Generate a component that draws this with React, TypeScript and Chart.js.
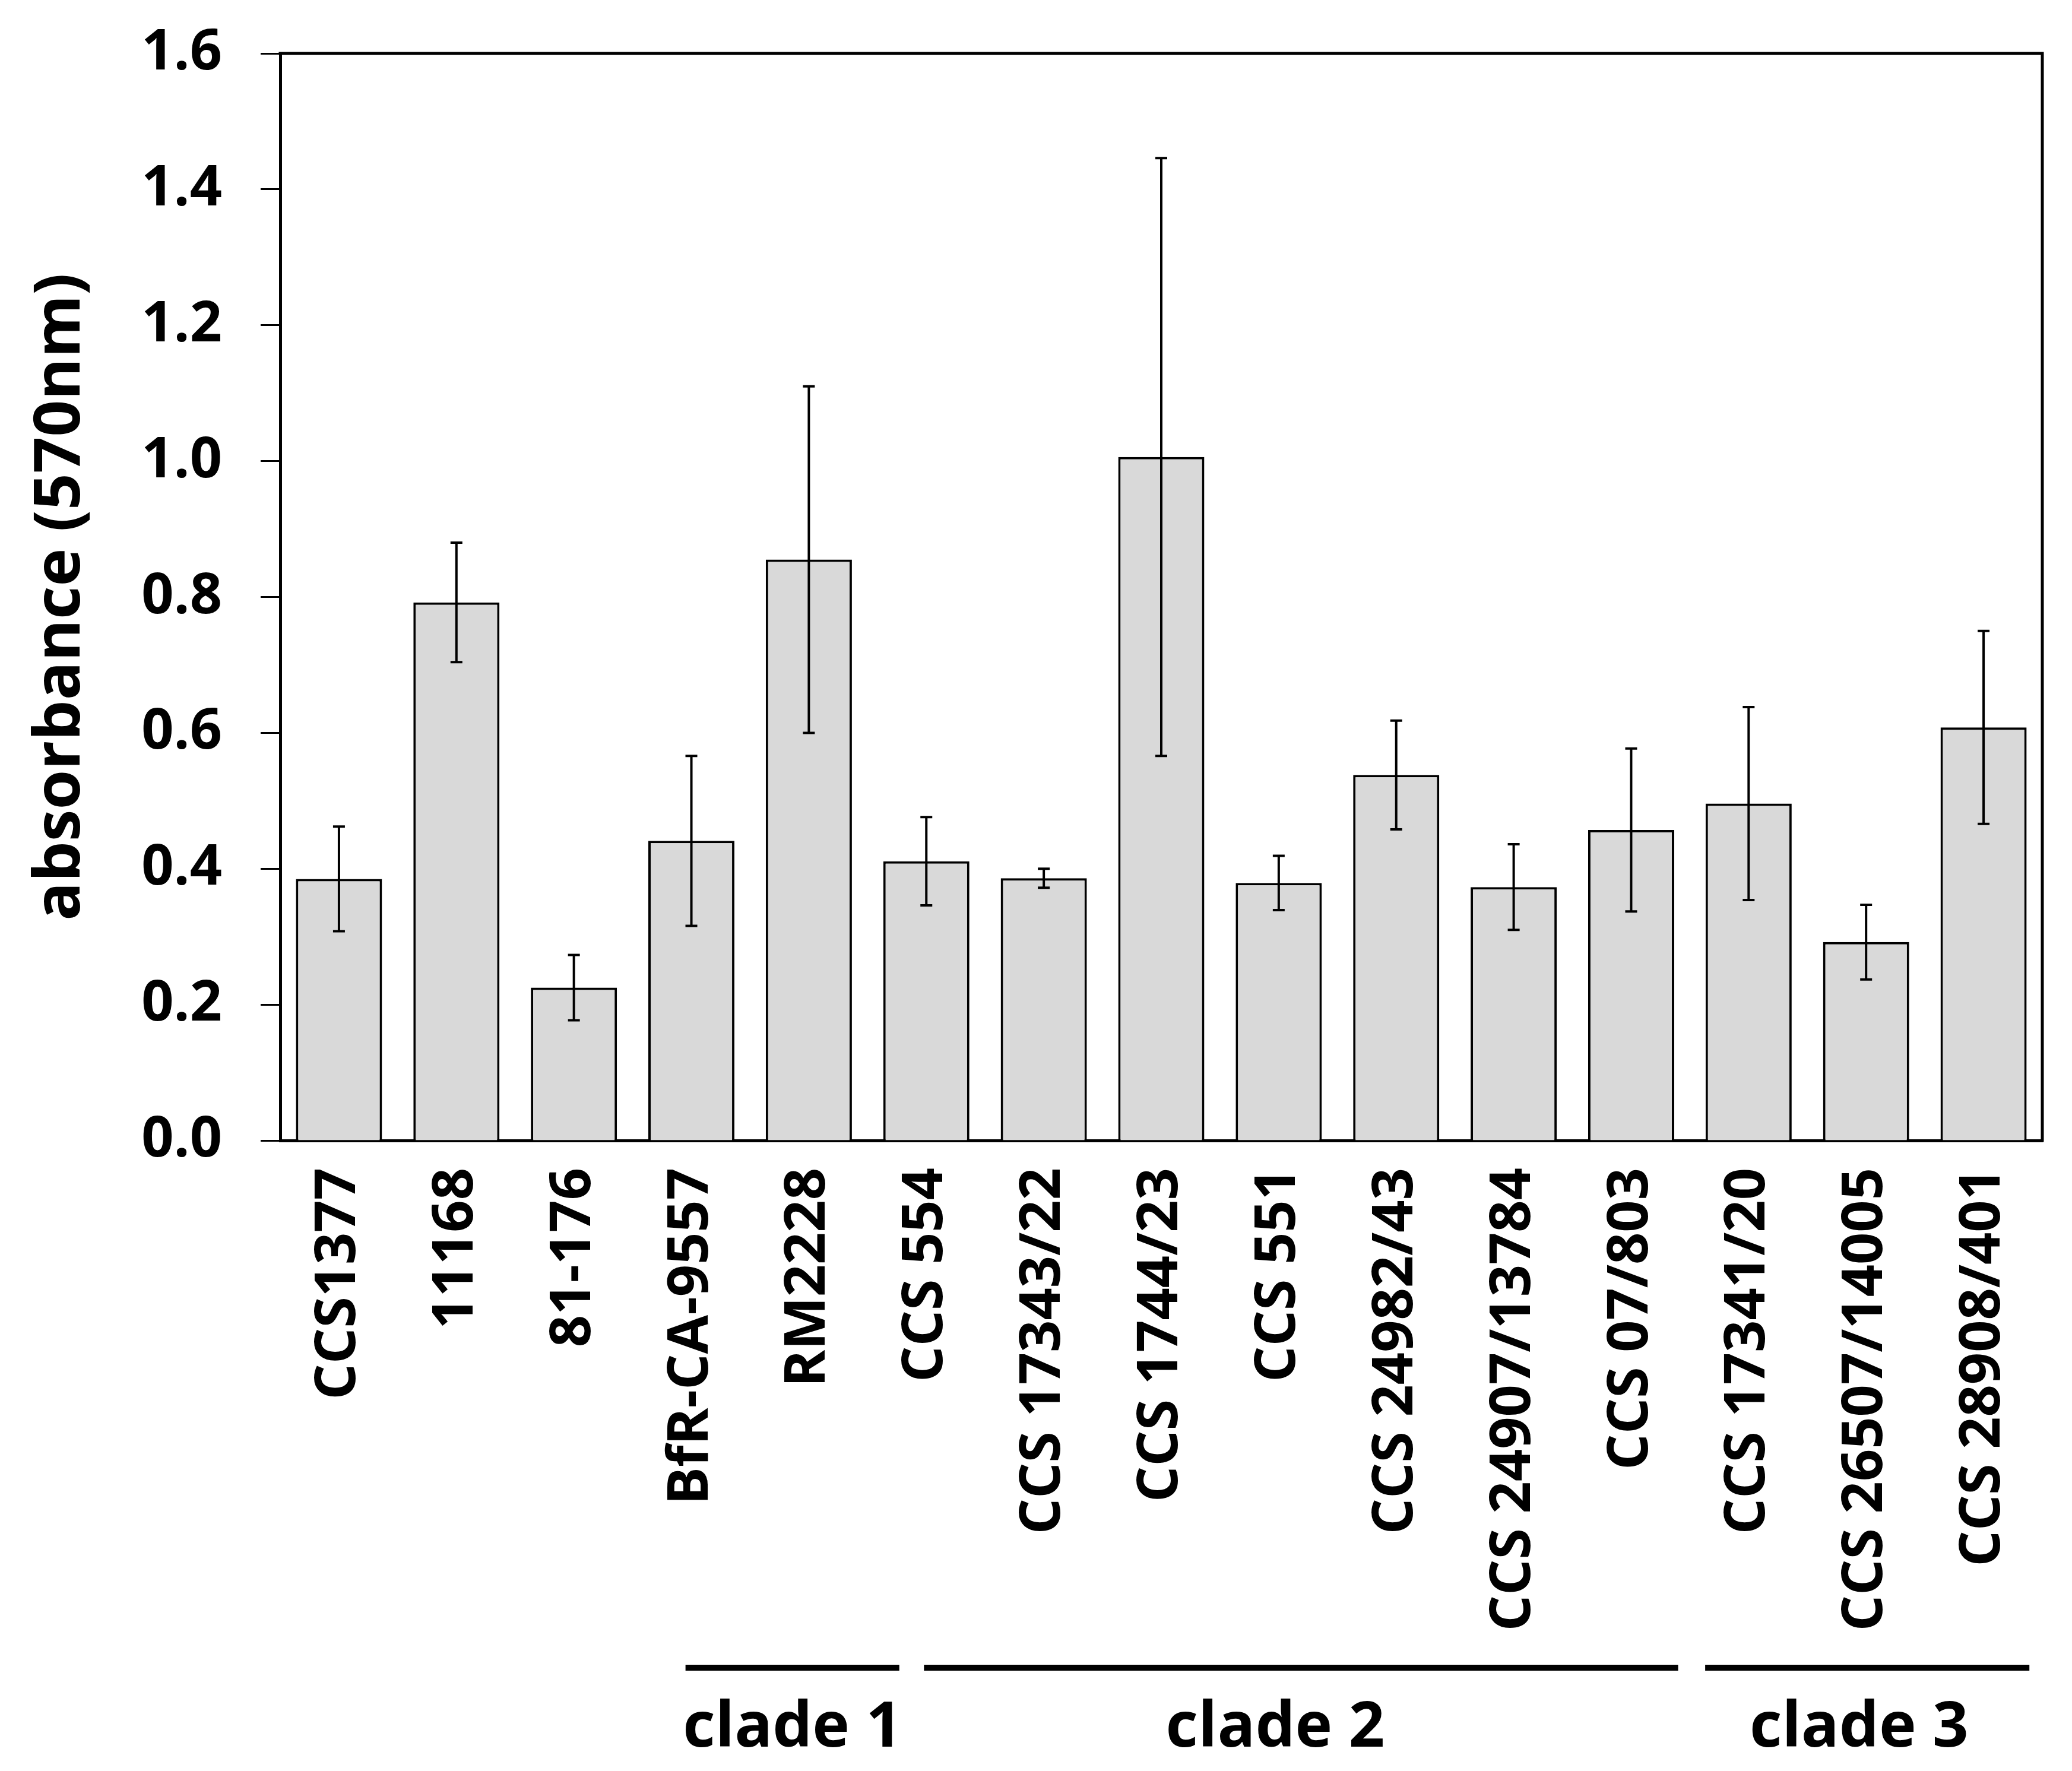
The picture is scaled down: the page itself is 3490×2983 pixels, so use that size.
import React, { useEffect, useRef } from "react";
import { Chart, registerables } from "chart.js";

Chart.register(...registerables);

// ---- data ----
const categories = [
  "CCS1377",
  "11168",
  "81-176",
  "BfR-CA-9557",
  "RM2228",
  "CCS 554",
  "CCS 17343/22",
  "CCS 1744/23",
  "CCS 551",
  "CCS 24982/43",
  "CCS 24907/13784",
  "CCS 07/803",
  "CCS 17341/20",
  "CCS 26507/14005",
  "CCS 28908/401",
];
const means = [0.385, 0.792, 0.225, 0.441, 0.855, 0.411, 0.386, 1.006, 0.379, 0.538, 0.373, 0.457, 0.496, 0.292, 0.608];
const errors = [0.077, 0.088, 0.048, 0.125, 0.255, 0.065, 0.014, 0.440, 0.040, 0.080, 0.063, 0.120, 0.142, 0.055, 0.142];

const yMin = 0;
const yMax = 1.6;
const yStep = 0.2;
const yTitle = "absorbance (570nm)";

const cladeNames = ["clade 1", "clade 2", "clade 3"];
// clade bracket extents, in category-index units
const cladeLineStart = [2.95, 4.98, 11.63];
const cladeLineEnd = [4.77, 11.4, 14.39];
const cladeLabelAt = [3.86, 7.97, 12.94];

// ---- styles ----
const W = 3490;
const H = 2983;
const FONT = "'Open Sans', 'DejaVu Sans', sans-serif";

const errorBarPlugin = {
  id: "errorBars",
  afterDatasetsDraw(chart: any) {
    const { ctx } = chart;
    const yScale = chart.scales.y;
    const meta = chart.getDatasetMeta(0);
    ctx.save();
    ctx.strokeStyle = "#000";
    ctx.lineWidth = 4;
    const cap = 10;
    meta.data.forEach((el: any, i: number) => {
      const x = el.x;
      const yt = yScale.getPixelForValue(means[i] + errors[i]);
      const yb = yScale.getPixelForValue(means[i] - errors[i]);
      ctx.beginPath();
      ctx.moveTo(x, yt);
      ctx.lineTo(x, yb);
      ctx.moveTo(x - cap, yt);
      ctx.lineTo(x + cap, yt);
      ctx.moveTo(x - cap, yb);
      ctx.lineTo(x + cap, yb);
      ctx.stroke();
    });
    ctx.restore();
  },
};

const framePlugin = {
  id: "frame",
  afterDraw(chart: any) {
    const { ctx, chartArea } = chart;
    const { left, right, top, bottom } = chartArea;
    ctx.save();
    ctx.strokeStyle = "#000";
    ctx.lineWidth = 5;
    ctx.beginPath();
    ctx.moveTo(left - 2.5, top);
    ctx.lineTo(right, top);
    ctx.lineTo(right, bottom + 2.5);
    ctx.stroke();

    // clade brackets
    const xs = chart.scales.x;
    ctx.lineWidth = 10;
    ctx.fillStyle = "#000";
    ctx.font = `bold 106px ${FONT}`;
    ctx.textAlign = "center";
    ctx.textBaseline = "alphabetic";
    const lineY = 2809;
    const textY = 2942;
    cladeNames.forEach((name, i) => {
      const x1 = xs.getPixelForValue(cladeLineStart[i]);
      const x2 = xs.getPixelForValue(cladeLineEnd[i]);
      ctx.beginPath();
      ctx.moveTo(x1, lineY);
      ctx.lineTo(x2, lineY);
      ctx.stroke();
      ctx.fillText(name, xs.getPixelForValue(cladeLabelAt[i]), textY);
    });
    ctx.restore();
  },
};

export default function App() {
  const ref = useRef<HTMLCanvasElement | null>(null);

  useEffect(() => {
    if (!ref.current) return;
    const tickFont = { family: FONT, weight: "bold" as const, size: 95 };
    const chart = new Chart(ref.current, {
      type: "bar",
      data: {
        labels: categories,
        datasets: [
          {
            data: means,
            backgroundColor: "#d9d9d9",
            borderColor: "#000",
            borderWidth: 4,
            barPercentage: 0.733,
            categoryPercentage: 1.0,
          },
        ],
      },
      options: {
        responsive: false,
        animation: false,
        devicePixelRatio: 1,
        layout: { padding: { top: 90, right: 50, left: 0, bottom: 0 } },
        plugins: {
          legend: { display: false },
          tooltip: { enabled: false },
        },
        scales: {
          x: {
            type: "category",
            offset: true,
            grid: { display: false },
            border: { display: true, color: "#000", width: 5 },
            ticks: {
              autoSkip: false,
              maxRotation: 90,
              minRotation: 90,
              padding: 38,
              color: "#000",
              font: tickFont,
            },
            afterFit: (s: any) => {
              s.height = H - 1921;
              s.paddingLeft = 0;
              s.paddingRight = 0;
            },
          },
          y: {
            min: yMin,
            max: yMax,
            ticks: {
              stepSize: yStep,
              padding: 65,
              color: "#000",
              font: tickFont,
              callback: (v: any) => Number(v).toFixed(1),
            },
            grid: {
              drawOnChartArea: false,
              drawTicks: true,
              tickLength: 33,
              tickWidth: 3,
              tickColor: "#000",
            },
            border: { display: true, color: "#000", width: 5 },
            title: {
              display: true,
              text: yTitle,
              color: "#000",
              font: { family: FONT, weight: "bold", size: 108, lineHeight: 1 },
              padding: { top: 49, bottom: 0 },
            },
            afterFit: (s: any) => {
              s.width = 472;
              s.paddingTop = 0;
              s.paddingBottom = 0;
            },
          },
        },
      },
      plugins: [errorBarPlugin, framePlugin],
    });
    return () => chart.destroy();
  }, []);

  return (
    <div style={{ position: "absolute", left: 0, top: 0, width: W, height: H, background: "#fff" }}>
      <canvas ref={ref} width={W} height={H} style={{ width: W, height: H, display: "block" }} />
    </div>
  );
}
